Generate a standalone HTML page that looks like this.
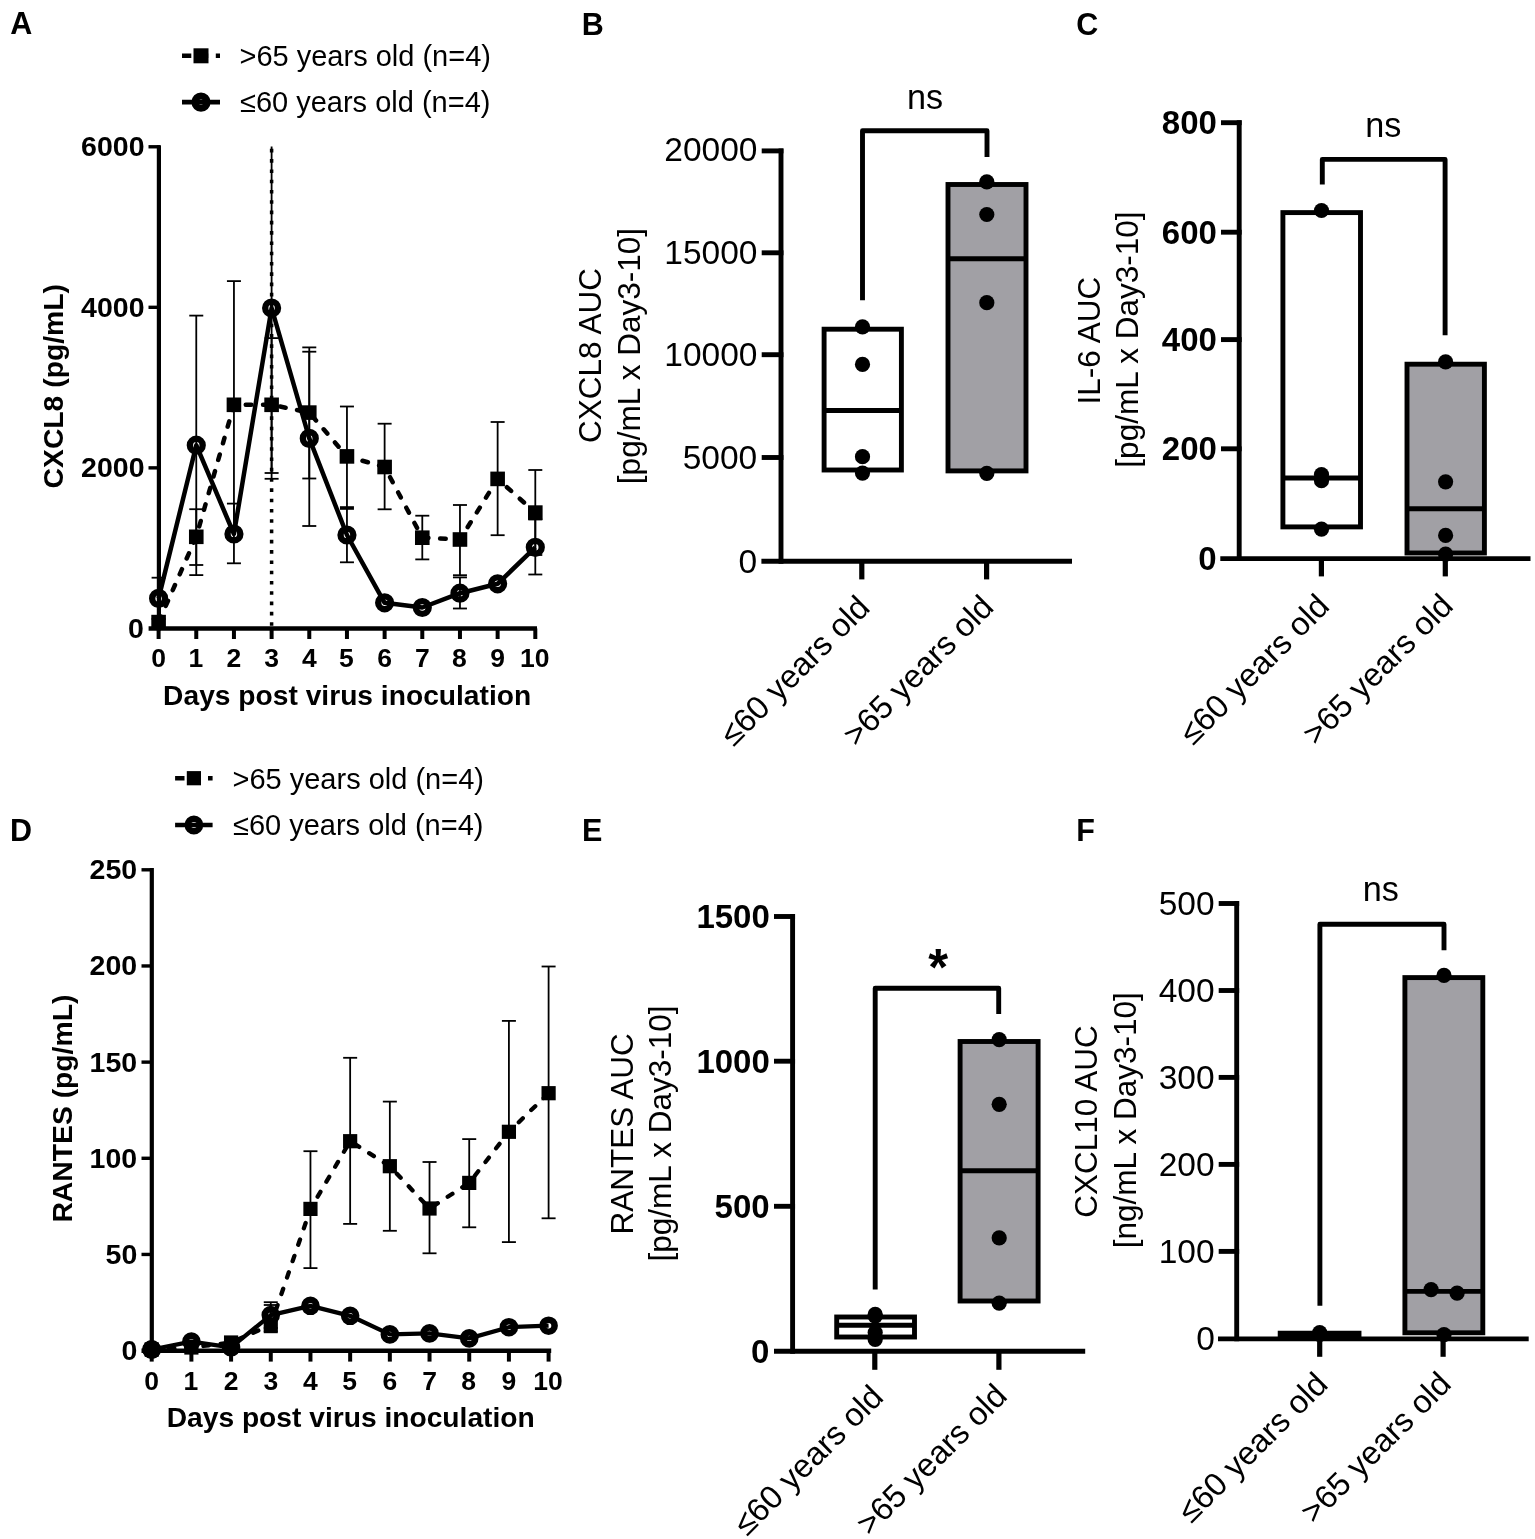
<!DOCTYPE html>
<html><head><meta charset="utf-8"><title>Figure</title>
<style>
html,body{margin:0;padding:0;background:#fff;}
body{width:1535px;height:1539px;overflow:hidden;}
svg{display:block;}
text{font-family:'Liberation Sans', sans-serif;fill:#000;}
line,polyline{stroke:#000;}
</style></head><body>
<svg width="1535" height="1539" viewBox="0 0 1535 1539">
<rect x="0" y="0" width="1535" height="1539" fill="#fff"/>
<text transform="translate(21.15,34.35)" font-size="30.5" font-weight="bold" text-anchor="middle">A</text>
<text transform="translate(592.75,34.70)" font-size="30.5" font-weight="bold" text-anchor="middle">B</text>
<text transform="translate(1087.35,34.60)" font-size="30.5" font-weight="bold" text-anchor="middle">C</text>
<text transform="translate(21.10,841.15)" font-size="30.5" font-weight="bold" text-anchor="middle">D</text>
<text transform="translate(592.05,841.05)" font-size="30.5" font-weight="bold" text-anchor="middle">E</text>
<text transform="translate(1085.50,841.25)" font-size="30.5" font-weight="bold" text-anchor="middle">F</text>
<line x1="182.00" y1="55.80" x2="220.00" y2="55.80" stroke-width="4.6" stroke-dasharray="9.3 7.6"/>
<rect x="193.50" y="48.30" width="15.00" height="15.00" fill="#000" />
<line x1="182.00" y1="102.10" x2="220.00" y2="102.10" stroke-width="4.6" />
<circle cx="201.00" cy="102.10" r="6.10" fill="none" stroke="#000" stroke-width="7.0"/>
<text transform="translate(365.20,66.05)" font-size="29" font-weight="normal" text-anchor="middle">&gt;65 years old (n=4)</text>
<text transform="translate(365.20,112.20)" font-size="29" font-weight="normal" text-anchor="middle">≤60 years old (n=4)</text>
<line x1="158.90" y1="145.20" x2="158.90" y2="630.60" stroke-width="4.2" />
<line x1="148.50" y1="146.78" x2="160.00" y2="146.78" stroke-width="3.4" />
<line x1="148.50" y1="307.32" x2="160.00" y2="307.32" stroke-width="3.4" />
<line x1="148.50" y1="467.86" x2="160.00" y2="467.86" stroke-width="3.4" />
<line x1="148.60" y1="628.40" x2="537.00" y2="628.40" stroke-width="4.5" />
<line x1="158.60" y1="628.40" x2="158.60" y2="639.00" stroke-width="4.0" />
<line x1="196.27" y1="628.40" x2="196.27" y2="639.00" stroke-width="4.0" />
<line x1="233.94" y1="628.40" x2="233.94" y2="639.00" stroke-width="4.0" />
<line x1="271.61" y1="628.40" x2="271.61" y2="639.00" stroke-width="4.0" />
<line x1="309.28" y1="628.40" x2="309.28" y2="639.00" stroke-width="4.0" />
<line x1="346.95" y1="628.40" x2="346.95" y2="639.00" stroke-width="4.0" />
<line x1="384.62" y1="628.40" x2="384.62" y2="639.00" stroke-width="4.0" />
<line x1="422.29" y1="628.40" x2="422.29" y2="639.00" stroke-width="4.0" />
<line x1="459.96" y1="628.40" x2="459.96" y2="639.00" stroke-width="4.0" />
<line x1="497.63" y1="628.40" x2="497.63" y2="639.00" stroke-width="4.0" />
<line x1="535.30" y1="628.40" x2="535.30" y2="639.00" stroke-width="4.0" />
<text transform="translate(112.80,156.28)" font-size="28.5" font-weight="bold" text-anchor="middle">6000</text>
<text transform="translate(112.80,316.82)" font-size="28.5" font-weight="bold" text-anchor="middle">4000</text>
<text transform="translate(112.80,477.36)" font-size="28.5" font-weight="bold" text-anchor="middle">2000</text>
<text transform="translate(135.80,637.90)" font-size="28.5" font-weight="bold" text-anchor="middle">0</text>
<text transform="translate(158.60,666.95)" font-size="26.5" font-weight="bold" text-anchor="middle">0</text>
<text transform="translate(195.77,666.95)" font-size="26.5" font-weight="bold" text-anchor="middle">1</text>
<text transform="translate(233.94,666.95)" font-size="26.5" font-weight="bold" text-anchor="middle">2</text>
<text transform="translate(271.61,666.95)" font-size="26.5" font-weight="bold" text-anchor="middle">3</text>
<text transform="translate(309.28,666.95)" font-size="26.5" font-weight="bold" text-anchor="middle">4</text>
<text transform="translate(346.45,666.95)" font-size="26.5" font-weight="bold" text-anchor="middle">5</text>
<text transform="translate(384.62,666.95)" font-size="26.5" font-weight="bold" text-anchor="middle">6</text>
<text transform="translate(422.29,666.95)" font-size="26.5" font-weight="bold" text-anchor="middle">7</text>
<text transform="translate(459.46,666.95)" font-size="26.5" font-weight="bold" text-anchor="middle">8</text>
<text transform="translate(497.63,666.95)" font-size="26.5" font-weight="bold" text-anchor="middle">9</text>
<text transform="translate(534.80,666.95)" font-size="26.5" font-weight="bold" text-anchor="middle">10</text>
<text transform="translate(347.15,704.70)" font-size="28.2" font-weight="bold" text-anchor="middle">Days post virus inoculation</text>
<text transform="translate(63.20,386.25) rotate(-90)" font-size="28.3" font-weight="bold" text-anchor="middle">CXCL8 (pg/mL)</text>
<line x1="271.61" y1="146.00" x2="271.61" y2="628.00" stroke-width="3.5" stroke-dasharray="3.6 6.69" stroke-dashoffset="-2.8"/>
<line x1="196.27" y1="509.20" x2="196.27" y2="565.00" stroke-width="1.8" />
<line x1="189.27" y1="509.20" x2="203.27" y2="509.20" stroke-width="1.8" />
<line x1="189.27" y1="565.00" x2="203.27" y2="565.00" stroke-width="1.8" />
<line x1="233.94" y1="281.10" x2="233.94" y2="528.80" stroke-width="1.8" />
<line x1="226.94" y1="281.10" x2="240.94" y2="281.10" stroke-width="1.8" />
<line x1="226.94" y1="528.80" x2="240.94" y2="528.80" stroke-width="1.8" />
<line x1="271.61" y1="338.10" x2="271.61" y2="473.00" stroke-width="1.8" />
<line x1="264.61" y1="338.10" x2="278.61" y2="338.10" stroke-width="1.8" />
<line x1="264.61" y1="473.00" x2="278.61" y2="473.00" stroke-width="1.8" />
<line x1="309.28" y1="347.40" x2="309.28" y2="478.50" stroke-width="1.8" />
<line x1="302.28" y1="347.40" x2="316.28" y2="347.40" stroke-width="1.8" />
<line x1="302.28" y1="478.50" x2="316.28" y2="478.50" stroke-width="1.8" />
<line x1="346.95" y1="406.50" x2="346.95" y2="507.10" stroke-width="1.8" />
<line x1="339.95" y1="406.50" x2="353.95" y2="406.50" stroke-width="1.8" />
<line x1="339.95" y1="507.10" x2="353.95" y2="507.10" stroke-width="1.8" />
<line x1="384.62" y1="423.70" x2="384.62" y2="509.30" stroke-width="1.8" />
<line x1="377.62" y1="423.70" x2="391.62" y2="423.70" stroke-width="1.8" />
<line x1="377.62" y1="509.30" x2="391.62" y2="509.30" stroke-width="1.8" />
<line x1="422.29" y1="515.70" x2="422.29" y2="559.40" stroke-width="1.8" />
<line x1="415.29" y1="515.70" x2="429.29" y2="515.70" stroke-width="1.8" />
<line x1="415.29" y1="559.40" x2="429.29" y2="559.40" stroke-width="1.8" />
<line x1="459.96" y1="505.00" x2="459.96" y2="575.20" stroke-width="1.8" />
<line x1="452.96" y1="505.00" x2="466.96" y2="505.00" stroke-width="1.8" />
<line x1="452.96" y1="575.20" x2="466.96" y2="575.20" stroke-width="1.8" />
<line x1="497.63" y1="422.00" x2="497.63" y2="535.20" stroke-width="1.8" />
<line x1="490.63" y1="422.00" x2="504.63" y2="422.00" stroke-width="1.8" />
<line x1="490.63" y1="535.20" x2="504.63" y2="535.20" stroke-width="1.8" />
<line x1="535.30" y1="470.00" x2="535.30" y2="555.00" stroke-width="1.8" />
<line x1="528.30" y1="470.00" x2="542.30" y2="470.00" stroke-width="1.8" />
<line x1="528.30" y1="555.00" x2="542.30" y2="555.00" stroke-width="1.8" />
<line x1="158.60" y1="577.70" x2="158.60" y2="619.00" stroke-width="1.8" />
<line x1="151.60" y1="577.70" x2="165.60" y2="577.70" stroke-width="1.8" />
<line x1="151.60" y1="619.00" x2="165.60" y2="619.00" stroke-width="1.8" />
<line x1="196.27" y1="315.60" x2="196.27" y2="575.10" stroke-width="1.8" />
<line x1="189.27" y1="315.60" x2="203.27" y2="315.60" stroke-width="1.8" />
<line x1="189.27" y1="575.10" x2="203.27" y2="575.10" stroke-width="1.8" />
<line x1="233.94" y1="503.60" x2="233.94" y2="563.30" stroke-width="1.8" />
<line x1="226.94" y1="503.60" x2="240.94" y2="503.60" stroke-width="1.8" />
<line x1="226.94" y1="563.30" x2="240.94" y2="563.30" stroke-width="1.8" />
<line x1="271.61" y1="146.50" x2="271.61" y2="478.80" stroke-width="1.8" />
<line x1="264.61" y1="478.80" x2="278.61" y2="478.80" stroke-width="1.8" />
<line x1="309.28" y1="351.70" x2="309.28" y2="526.00" stroke-width="1.8" />
<line x1="302.28" y1="351.70" x2="316.28" y2="351.70" stroke-width="1.8" />
<line x1="302.28" y1="526.00" x2="316.28" y2="526.00" stroke-width="1.8" />
<line x1="346.95" y1="508.90" x2="346.95" y2="562.30" stroke-width="1.8" />
<line x1="339.95" y1="508.90" x2="353.95" y2="508.90" stroke-width="1.8" />
<line x1="339.95" y1="562.30" x2="353.95" y2="562.30" stroke-width="1.8" />
<line x1="459.96" y1="577.40" x2="459.96" y2="608.50" stroke-width="1.8" />
<line x1="452.96" y1="577.40" x2="466.96" y2="577.40" stroke-width="1.8" />
<line x1="452.96" y1="608.50" x2="466.96" y2="608.50" stroke-width="1.8" />
<line x1="535.30" y1="519.50" x2="535.30" y2="574.50" stroke-width="1.8" />
<line x1="528.30" y1="519.50" x2="542.30" y2="519.50" stroke-width="1.8" />
<line x1="528.30" y1="574.50" x2="542.30" y2="574.50" stroke-width="1.8" />
<polyline points="158.60,622.10 196.27,536.80 233.94,404.80 271.61,404.80 309.28,412.60 346.95,456.40 384.62,467.00 422.29,537.70 459.96,539.50 497.63,478.90 535.30,512.60" fill="none" stroke-width="4.5" stroke-linejoin="round" stroke-dasharray="5.6 11.68" stroke-dashoffset="-0.4" stroke-linecap="round"/>
<polyline points="158.60,598.40 196.27,445.20 233.94,534.00 271.61,308.00 309.28,438.40 346.95,535.00 384.62,602.80 422.29,607.50 459.96,593.20 497.63,583.80 535.30,547.30" fill="none" stroke-width="4.5" stroke-linejoin="round" />
<rect x="151.30" y="614.80" width="14.60" height="14.60" fill="#000" />
<rect x="188.97" y="529.50" width="14.60" height="14.60" fill="#000" />
<rect x="226.64" y="397.50" width="14.60" height="14.60" fill="#000" />
<rect x="264.31" y="397.50" width="14.60" height="14.60" fill="#000" />
<rect x="301.98" y="405.30" width="14.60" height="14.60" fill="#000" />
<rect x="339.65" y="449.10" width="14.60" height="14.60" fill="#000" />
<rect x="377.32" y="459.70" width="14.60" height="14.60" fill="#000" />
<rect x="414.99" y="530.40" width="14.60" height="14.60" fill="#000" />
<rect x="452.66" y="532.20" width="14.60" height="14.60" fill="#000" />
<rect x="490.33" y="471.60" width="14.60" height="14.60" fill="#000" />
<rect x="528.00" y="505.30" width="14.60" height="14.60" fill="#000" />
<circle cx="158.60" cy="598.40" r="6.40" fill="none" stroke="#000" stroke-width="6.3999999999999995"/>
<circle cx="196.27" cy="445.20" r="6.40" fill="none" stroke="#000" stroke-width="6.3999999999999995"/>
<circle cx="233.94" cy="534.00" r="6.40" fill="none" stroke="#000" stroke-width="6.3999999999999995"/>
<circle cx="271.61" cy="308.00" r="6.40" fill="none" stroke="#000" stroke-width="6.3999999999999995"/>
<circle cx="309.28" cy="438.40" r="6.40" fill="none" stroke="#000" stroke-width="6.3999999999999995"/>
<circle cx="346.95" cy="535.00" r="6.40" fill="none" stroke="#000" stroke-width="6.3999999999999995"/>
<circle cx="384.62" cy="602.80" r="6.40" fill="none" stroke="#000" stroke-width="6.3999999999999995"/>
<circle cx="422.29" cy="607.50" r="6.40" fill="none" stroke="#000" stroke-width="6.3999999999999995"/>
<circle cx="459.96" cy="593.20" r="6.40" fill="none" stroke="#000" stroke-width="6.3999999999999995"/>
<circle cx="497.63" cy="583.80" r="6.40" fill="none" stroke="#000" stroke-width="6.3999999999999995"/>
<circle cx="535.30" cy="547.30" r="6.40" fill="none" stroke="#000" stroke-width="6.3999999999999995"/>
<line x1="781.00" y1="148.45" x2="781.00" y2="563.75" stroke-width="4.9" />
<line x1="761.70" y1="150.90" x2="783.45" y2="150.90" stroke-width="4.9" />
<text transform="translate(710.90,160.80)" font-size="33.5" font-weight="normal" text-anchor="middle">20000</text>
<line x1="761.70" y1="252.80" x2="783.45" y2="252.80" stroke-width="4.9" />
<text transform="translate(710.90,264.30)" font-size="33.5" font-weight="normal" text-anchor="middle">15000</text>
<line x1="761.70" y1="354.70" x2="783.45" y2="354.70" stroke-width="4.9" />
<text transform="translate(710.90,366.20)" font-size="33.5" font-weight="normal" text-anchor="middle">10000</text>
<line x1="761.70" y1="457.50" x2="783.45" y2="457.50" stroke-width="4.9" />
<text transform="translate(719.90,469.00)" font-size="33.5" font-weight="normal" text-anchor="middle">5000</text>
<text transform="translate(747.90,572.80)" font-size="33.5" font-weight="normal" text-anchor="middle">0</text>
<line x1="761.40" y1="561.30" x2="1072.00" y2="561.30" stroke-width="4.9" />
<line x1="861.80" y1="561.30" x2="861.80" y2="579.40" stroke-width="5.2" />
<line x1="986.60" y1="561.30" x2="986.60" y2="579.40" stroke-width="5.2" />
<rect x="824.10" y="329.20" width="77.30" height="140.80" fill="#fff" stroke="#000" stroke-width="4.9"/>
<line x1="824.10" y1="410.50" x2="901.40" y2="410.50" stroke-width="4.9" />
<rect x="948.00" y="184.50" width="78.00" height="286.40" fill="#a1a0a5" stroke="#000" stroke-width="4.9"/>
<line x1="948.00" y1="258.80" x2="1026.00" y2="258.80" stroke-width="4.9" />
<circle cx="862.50" cy="326.90" r="7.60" fill="#000" stroke="none"/>
<circle cx="862.50" cy="364.40" r="7.60" fill="#000" stroke="none"/>
<circle cx="862.50" cy="456.70" r="7.60" fill="#000" stroke="none"/>
<circle cx="862.50" cy="473.10" r="7.60" fill="#000" stroke="none"/>
<circle cx="986.80" cy="181.80" r="7.60" fill="#000" stroke="none"/>
<circle cx="986.80" cy="214.50" r="7.60" fill="#000" stroke="none"/>
<circle cx="986.80" cy="302.70" r="7.60" fill="#000" stroke="none"/>
<circle cx="986.80" cy="473.40" r="7.60" fill="#000" stroke="none"/>
<polyline points="862.50,300.30 862.50,130.80 987.00,130.80 987.00,156.90" fill="none" stroke-width="4.9" stroke-linejoin="round" stroke-linejoin="miter" stroke-linecap="butt"/>
<text transform="translate(925.15,108.75)" font-size="34.2" font-weight="normal" text-anchor="middle">ns</text>
<text transform="translate(600.90,355.50) rotate(-90)" font-size="31.5" font-weight="normal" text-anchor="middle">CXCL8 AUC</text>
<text transform="translate(639.80,356.05) rotate(-90)" font-size="31.5" font-weight="normal" text-anchor="middle">[pg/mL x Day3-10]</text>
<text transform="translate(802.60,678.40) rotate(-45)" font-size="32.6" font-weight="normal" text-anchor="middle">≤60 years old</text>
<text transform="translate(925.90,678.40) rotate(-45)" font-size="32.6" font-weight="normal" text-anchor="middle">&gt;65 years old</text>
<line x1="1239.20" y1="120.25" x2="1239.20" y2="561.05" stroke-width="4.9" />
<line x1="1221.00" y1="122.70" x2="1241.65" y2="122.70" stroke-width="4.9" />
<text transform="translate(1189.40,134.20)" font-size="33" font-weight="bold" text-anchor="middle">800</text>
<line x1="1221.00" y1="232.20" x2="1241.65" y2="232.20" stroke-width="4.9" />
<text transform="translate(1189.40,243.70)" font-size="33" font-weight="bold" text-anchor="middle">600</text>
<line x1="1221.00" y1="339.60" x2="1241.65" y2="339.60" stroke-width="4.9" />
<text transform="translate(1189.40,351.10)" font-size="33" font-weight="bold" text-anchor="middle">400</text>
<line x1="1221.00" y1="448.80" x2="1241.65" y2="448.80" stroke-width="4.9" />
<text transform="translate(1189.40,460.30)" font-size="33" font-weight="bold" text-anchor="middle">200</text>
<text transform="translate(1207.40,570.30)" font-size="33" font-weight="bold" text-anchor="middle">0</text>
<line x1="1220.30" y1="558.60" x2="1530.50" y2="558.60" stroke-width="4.9" />
<line x1="1321.40" y1="558.60" x2="1321.40" y2="576.40" stroke-width="5.2" />
<line x1="1445.30" y1="558.60" x2="1445.30" y2="576.40" stroke-width="5.2" />
<rect x="1282.90" y="212.60" width="77.60" height="314.30" fill="#fff" stroke="#000" stroke-width="4.9"/>
<line x1="1282.90" y1="478.00" x2="1360.50" y2="478.00" stroke-width="4.9" />
<rect x="1407.00" y="364.20" width="77.40" height="188.80" fill="#a1a0a5" stroke="#000" stroke-width="4.9"/>
<line x1="1407.00" y1="508.70" x2="1484.40" y2="508.70" stroke-width="4.9" />
<circle cx="1321.50" cy="210.50" r="7.60" fill="#000" stroke="none"/>
<circle cx="1321.50" cy="474.50" r="7.60" fill="#000" stroke="none"/>
<circle cx="1321.50" cy="480.70" r="7.60" fill="#000" stroke="none"/>
<circle cx="1321.50" cy="529.20" r="7.60" fill="#000" stroke="none"/>
<circle cx="1445.60" cy="361.90" r="7.60" fill="#000" stroke="none"/>
<circle cx="1445.60" cy="481.80" r="7.60" fill="#000" stroke="none"/>
<circle cx="1445.60" cy="535.40" r="7.60" fill="#000" stroke="none"/>
<circle cx="1445.60" cy="554.20" r="7.60" fill="#000" stroke="none"/>
<polyline points="1322.30,184.40 1322.30,159.40 1445.10,159.40 1445.10,335.30" fill="none" stroke-width="4.9" stroke-linejoin="round" stroke-linejoin="miter" stroke-linecap="butt"/>
<text transform="translate(1383.25,137.00)" font-size="34.2" font-weight="normal" text-anchor="middle">ns</text>
<text transform="translate(1099.60,340.55) rotate(-90)" font-size="31.5" font-weight="normal" text-anchor="middle">IL-6 AUC</text>
<text transform="translate(1138.45,339.55) rotate(-90)" font-size="31.5" font-weight="normal" text-anchor="middle">[pg/mL x Day3-10]</text>
<text transform="translate(1262.00,677.10) rotate(-45)" font-size="32.6" font-weight="normal" text-anchor="middle">≤60 years old</text>
<text transform="translate(1385.40,677.10) rotate(-45)" font-size="32.6" font-weight="normal" text-anchor="middle">&gt;65 years old</text>
<line x1="792.60" y1="914.05" x2="792.60" y2="1353.65" stroke-width="4.9" />
<line x1="774.00" y1="916.50" x2="795.05" y2="916.50" stroke-width="4.9" />
<text transform="translate(733.10,928.00)" font-size="33" font-weight="bold" text-anchor="middle">1500</text>
<line x1="774.00" y1="1061.20" x2="795.05" y2="1061.20" stroke-width="4.9" />
<text transform="translate(733.10,1072.70)" font-size="33" font-weight="bold" text-anchor="middle">1000</text>
<line x1="774.00" y1="1206.30" x2="795.05" y2="1206.30" stroke-width="4.9" />
<text transform="translate(742.10,1217.80)" font-size="33" font-weight="bold" text-anchor="middle">500</text>
<text transform="translate(760.10,1362.70)" font-size="33" font-weight="bold" text-anchor="middle">0</text>
<line x1="774.00" y1="1351.20" x2="1085.20" y2="1351.20" stroke-width="4.9" />
<line x1="874.80" y1="1351.20" x2="874.80" y2="1369.80" stroke-width="5.2" />
<line x1="998.90" y1="1351.20" x2="998.90" y2="1369.80" stroke-width="5.2" />
<rect x="836.70" y="1317.00" width="77.80" height="20.00" fill="#fff" stroke="#000" stroke-width="4.9"/>
<line x1="836.70" y1="1325.20" x2="914.50" y2="1325.20" stroke-width="4.9" />
<rect x="960.10" y="1041.50" width="78.00" height="259.50" fill="#a1a0a5" stroke="#000" stroke-width="4.9"/>
<line x1="960.10" y1="1170.80" x2="1038.10" y2="1170.80" stroke-width="4.9" />
<circle cx="875.20" cy="1314.40" r="7.60" fill="#000" stroke="none"/>
<circle cx="875.20" cy="1316.20" r="7.60" fill="#000" stroke="none"/>
<circle cx="875.20" cy="1332.50" r="7.60" fill="#000" stroke="none"/>
<circle cx="875.20" cy="1339.50" r="7.60" fill="#000" stroke="none"/>
<circle cx="999.20" cy="1039.60" r="7.60" fill="#000" stroke="none"/>
<circle cx="999.20" cy="1104.30" r="7.60" fill="#000" stroke="none"/>
<circle cx="999.20" cy="1237.90" r="7.60" fill="#000" stroke="none"/>
<circle cx="999.20" cy="1303.20" r="7.60" fill="#000" stroke="none"/>
<polyline points="875.20,1289.50 875.20,988.30 998.70,988.30 998.70,1014.10" fill="none" stroke-width="4.9" stroke-linejoin="round" stroke-linejoin="miter" stroke-linecap="butt"/>
<text transform="translate(938.10,985.40)" font-size="51" font-weight="bold" font-family="DejaVu Sans, sans-serif" text-anchor="middle">*</text>
<text transform="translate(633.15,1133.95) rotate(-90)" font-size="31.5" font-weight="normal" text-anchor="middle">RANTES AUC</text>
<text transform="translate(671.15,1133.50) rotate(-90)" font-size="31.5" font-weight="normal" text-anchor="middle">[pg/mL x Day3-10]</text>
<text transform="translate(816.00,1467.90) rotate(-45)" font-size="32.6" font-weight="normal" text-anchor="middle">≤60 years old</text>
<text transform="translate(939.30,1467.20) rotate(-45)" font-size="32.6" font-weight="normal" text-anchor="middle">&gt;65 years old</text>
<line x1="1236.70" y1="901.05" x2="1236.70" y2="1341.35" stroke-width="4.9" />
<line x1="1218.70" y1="903.50" x2="1239.15" y2="903.50" stroke-width="4.9" />
<text transform="translate(1186.60,915.00)" font-size="33.5" font-weight="normal" text-anchor="middle">500</text>
<line x1="1218.70" y1="990.50" x2="1239.15" y2="990.50" stroke-width="4.9" />
<text transform="translate(1186.60,1002.00)" font-size="33.5" font-weight="normal" text-anchor="middle">400</text>
<line x1="1218.70" y1="1077.40" x2="1239.15" y2="1077.40" stroke-width="4.9" />
<text transform="translate(1186.60,1088.90)" font-size="33.5" font-weight="normal" text-anchor="middle">300</text>
<line x1="1218.70" y1="1164.40" x2="1239.15" y2="1164.40" stroke-width="4.9" />
<text transform="translate(1186.60,1175.90)" font-size="33.5" font-weight="normal" text-anchor="middle">200</text>
<line x1="1218.70" y1="1251.40" x2="1239.15" y2="1251.40" stroke-width="4.9" />
<text transform="translate(1186.60,1262.90)" font-size="33.5" font-weight="normal" text-anchor="middle">100</text>
<text transform="translate(1205.60,1350.10)" font-size="33.5" font-weight="normal" text-anchor="middle">0</text>
<line x1="1218.00" y1="1338.90" x2="1528.70" y2="1338.90" stroke-width="4.9" />
<line x1="1319.70" y1="1338.90" x2="1319.70" y2="1356.80" stroke-width="5.2" />
<line x1="1443.10" y1="1338.90" x2="1443.10" y2="1356.80" stroke-width="5.2" />
<rect x="1280.20" y="1333.20" width="78.80" height="3.30" fill="#fff" stroke="#000" stroke-width="4.9"/>
<line x1="1280.20" y1="1335.00" x2="1359.00" y2="1335.00" stroke-width="4.9" />
<rect x="1404.90" y="977.60" width="77.90" height="355.20" fill="#a1a0a5" stroke="#000" stroke-width="4.9"/>
<line x1="1404.90" y1="1291.40" x2="1482.80" y2="1291.40" stroke-width="4.9" />
<circle cx="1319.70" cy="1332.60" r="7.60" fill="#000" stroke="none"/>
<circle cx="1319.70" cy="1334.50" r="7.60" fill="#000" stroke="none"/>
<circle cx="1444.00" cy="975.40" r="7.60" fill="#000" stroke="none"/>
<circle cx="1431.10" cy="1289.60" r="7.60" fill="#000" stroke="none"/>
<circle cx="1457.10" cy="1293.20" r="7.60" fill="#000" stroke="none"/>
<circle cx="1444.00" cy="1334.70" r="7.60" fill="#000" stroke="none"/>
<polyline points="1319.90,1305.70 1319.90,924.30 1444.00,924.30 1444.00,950.20" fill="none" stroke-width="4.9" stroke-linejoin="round" stroke-linejoin="miter" stroke-linecap="butt"/>
<text transform="translate(1380.90,901.10)" font-size="34.2" font-weight="normal" text-anchor="middle">ns</text>
<text transform="translate(1097.00,1121.55) rotate(-90)" font-size="31.5" font-weight="normal" text-anchor="middle">CXCL10 AUC</text>
<text transform="translate(1136.15,1120.25) rotate(-90)" font-size="31.5" font-weight="normal" text-anchor="middle">[ng/mL x Day3-10]</text>
<text transform="translate(1260.40,1455.20) rotate(-45)" font-size="32.6" font-weight="normal" text-anchor="middle">≤60 years old</text>
<text transform="translate(1383.40,1455.20) rotate(-45)" font-size="32.6" font-weight="normal" text-anchor="middle">&gt;65 years old</text>
<line x1="175.10" y1="778.20" x2="212.60" y2="778.20" stroke-width="4.6" stroke-dasharray="9.4 7.05"/>
<rect x="186.80" y="771.10" width="14.20" height="14.20" fill="#000" />
<line x1="175.10" y1="825.00" x2="212.60" y2="825.00" stroke-width="4.6" />
<circle cx="193.90" cy="825.00" r="6.20" fill="none" stroke="#000" stroke-width="6.4"/>
<text transform="translate(358.20,788.80)" font-size="29" font-weight="normal" text-anchor="middle">&gt;65 years old (n=4)</text>
<text transform="translate(358.20,835.05)" font-size="29" font-weight="normal" text-anchor="middle">≤60 years old (n=4)</text>
<line x1="151.80" y1="868.10" x2="151.80" y2="1353.00" stroke-width="4.2" />
<line x1="141.50" y1="869.80" x2="152.90" y2="869.80" stroke-width="3.4" />
<line x1="141.50" y1="965.96" x2="152.90" y2="965.96" stroke-width="3.4" />
<line x1="141.50" y1="1062.12" x2="152.90" y2="1062.12" stroke-width="3.4" />
<line x1="141.50" y1="1158.28" x2="152.90" y2="1158.28" stroke-width="3.4" />
<line x1="141.50" y1="1254.44" x2="152.90" y2="1254.44" stroke-width="3.4" />
<line x1="141.50" y1="1350.80" x2="551.20" y2="1350.80" stroke-width="4.5" />
<line x1="151.70" y1="1350.80" x2="151.70" y2="1361.60" stroke-width="4.0" />
<line x1="191.39" y1="1350.80" x2="191.39" y2="1361.60" stroke-width="4.0" />
<line x1="231.08" y1="1350.80" x2="231.08" y2="1361.60" stroke-width="4.0" />
<line x1="270.77" y1="1350.80" x2="270.77" y2="1361.60" stroke-width="4.0" />
<line x1="310.46" y1="1350.80" x2="310.46" y2="1361.60" stroke-width="4.0" />
<line x1="350.15" y1="1350.80" x2="350.15" y2="1361.60" stroke-width="4.0" />
<line x1="389.84" y1="1350.80" x2="389.84" y2="1361.60" stroke-width="4.0" />
<line x1="429.53" y1="1350.80" x2="429.53" y2="1361.60" stroke-width="4.0" />
<line x1="469.22" y1="1350.80" x2="469.22" y2="1361.60" stroke-width="4.0" />
<line x1="508.91" y1="1350.80" x2="508.91" y2="1361.60" stroke-width="4.0" />
<line x1="548.60" y1="1350.80" x2="548.60" y2="1361.60" stroke-width="4.0" />
<text transform="translate(113.40,879.30)" font-size="28.5" font-weight="bold" text-anchor="middle">250</text>
<text transform="translate(113.40,975.46)" font-size="28.5" font-weight="bold" text-anchor="middle">200</text>
<text transform="translate(113.40,1071.62)" font-size="28.5" font-weight="bold" text-anchor="middle">150</text>
<text transform="translate(113.40,1167.78)" font-size="28.5" font-weight="bold" text-anchor="middle">100</text>
<text transform="translate(121.40,1263.94)" font-size="28.5" font-weight="bold" text-anchor="middle">50</text>
<text transform="translate(129.40,1360.10)" font-size="28.5" font-weight="bold" text-anchor="middle">0</text>
<text transform="translate(151.70,1390.05)" font-size="26.5" font-weight="bold" text-anchor="middle">0</text>
<text transform="translate(190.89,1390.05)" font-size="26.5" font-weight="bold" text-anchor="middle">1</text>
<text transform="translate(231.08,1390.05)" font-size="26.5" font-weight="bold" text-anchor="middle">2</text>
<text transform="translate(270.77,1390.05)" font-size="26.5" font-weight="bold" text-anchor="middle">3</text>
<text transform="translate(310.46,1390.05)" font-size="26.5" font-weight="bold" text-anchor="middle">4</text>
<text transform="translate(349.65,1390.05)" font-size="26.5" font-weight="bold" text-anchor="middle">5</text>
<text transform="translate(389.84,1390.05)" font-size="26.5" font-weight="bold" text-anchor="middle">6</text>
<text transform="translate(429.53,1390.05)" font-size="26.5" font-weight="bold" text-anchor="middle">7</text>
<text transform="translate(468.72,1390.05)" font-size="26.5" font-weight="bold" text-anchor="middle">8</text>
<text transform="translate(508.91,1390.05)" font-size="26.5" font-weight="bold" text-anchor="middle">9</text>
<text transform="translate(548.10,1390.05)" font-size="26.5" font-weight="bold" text-anchor="middle">10</text>
<text transform="translate(350.70,1426.80)" font-size="28.2" font-weight="bold" text-anchor="middle">Days post virus inoculation</text>
<text transform="translate(71.60,1108.60) rotate(-90)" font-size="28.3" font-weight="bold" text-anchor="middle">RANTES (pg/mL)</text>
<line x1="270.77" y1="1302.20" x2="270.77" y2="1332.30" stroke-width="1.8" />
<line x1="263.77" y1="1302.20" x2="277.77" y2="1302.20" stroke-width="1.8" />
<line x1="263.77" y1="1332.30" x2="277.77" y2="1332.30" stroke-width="1.8" />
<line x1="310.46" y1="1151.20" x2="310.46" y2="1268.10" stroke-width="1.8" />
<line x1="303.46" y1="1151.20" x2="317.46" y2="1151.20" stroke-width="1.8" />
<line x1="303.46" y1="1268.10" x2="317.46" y2="1268.10" stroke-width="1.8" />
<line x1="350.15" y1="1057.80" x2="350.15" y2="1223.90" stroke-width="1.8" />
<line x1="343.15" y1="1057.80" x2="357.15" y2="1057.80" stroke-width="1.8" />
<line x1="343.15" y1="1223.90" x2="357.15" y2="1223.90" stroke-width="1.8" />
<line x1="389.84" y1="1101.60" x2="389.84" y2="1230.80" stroke-width="1.8" />
<line x1="382.84" y1="1101.60" x2="396.84" y2="1101.60" stroke-width="1.8" />
<line x1="382.84" y1="1230.80" x2="396.84" y2="1230.80" stroke-width="1.8" />
<line x1="429.53" y1="1162.00" x2="429.53" y2="1253.30" stroke-width="1.8" />
<line x1="422.53" y1="1162.00" x2="436.53" y2="1162.00" stroke-width="1.8" />
<line x1="422.53" y1="1253.30" x2="436.53" y2="1253.30" stroke-width="1.8" />
<line x1="469.22" y1="1139.10" x2="469.22" y2="1227.30" stroke-width="1.8" />
<line x1="462.22" y1="1139.10" x2="476.22" y2="1139.10" stroke-width="1.8" />
<line x1="462.22" y1="1227.30" x2="476.22" y2="1227.30" stroke-width="1.8" />
<line x1="508.91" y1="1020.90" x2="508.91" y2="1242.10" stroke-width="1.8" />
<line x1="501.91" y1="1020.90" x2="515.91" y2="1020.90" stroke-width="1.8" />
<line x1="501.91" y1="1242.10" x2="515.91" y2="1242.10" stroke-width="1.8" />
<line x1="548.60" y1="966.50" x2="548.60" y2="1218.30" stroke-width="1.8" />
<line x1="541.60" y1="966.50" x2="555.60" y2="966.50" stroke-width="1.8" />
<line x1="541.60" y1="1218.30" x2="555.60" y2="1218.30" stroke-width="1.8" />
<line x1="270.77" y1="1305.00" x2="270.77" y2="1328.00" stroke-width="1.8" />
<line x1="263.77" y1="1305.00" x2="277.77" y2="1305.00" stroke-width="1.8" />
<line x1="263.77" y1="1328.00" x2="277.77" y2="1328.00" stroke-width="1.8" />
<polyline points="151.70,1349.50 191.39,1347.50 231.08,1342.50 270.77,1325.10 310.46,1208.90 350.15,1141.20 389.84,1166.20 429.53,1208.50 469.22,1182.90 508.91,1131.80 548.60,1093.20" fill="none" stroke-width="4.3" stroke-linejoin="round" stroke-dasharray="5.6 11.75" stroke-dashoffset="0.2" stroke-linecap="round"/>
<polyline points="151.70,1349.50 191.39,1341.60 231.08,1347.30 270.77,1315.10 310.46,1305.80 350.15,1315.80 389.84,1334.40 429.53,1333.40 469.22,1338.40 508.91,1327.20 548.60,1325.70" fill="none" stroke-width="4.3" stroke-linejoin="round" />
<rect x="144.60" y="1342.40" width="14.20" height="14.20" fill="#000" />
<rect x="184.29" y="1340.40" width="14.20" height="14.20" fill="#000" />
<rect x="223.98" y="1335.40" width="14.20" height="14.20" fill="#000" />
<rect x="263.67" y="1318.00" width="14.20" height="14.20" fill="#000" />
<rect x="303.36" y="1201.80" width="14.20" height="14.20" fill="#000" />
<rect x="343.05" y="1134.10" width="14.20" height="14.20" fill="#000" />
<rect x="382.74" y="1159.10" width="14.20" height="14.20" fill="#000" />
<rect x="422.43" y="1201.40" width="14.20" height="14.20" fill="#000" />
<rect x="462.12" y="1175.80" width="14.20" height="14.20" fill="#000" />
<rect x="501.81" y="1124.70" width="14.20" height="14.20" fill="#000" />
<rect x="541.50" y="1086.10" width="14.20" height="14.20" fill="#000" />
<circle cx="151.70" cy="1349.50" r="6.00" fill="none" stroke="#000" stroke-width="6.6000000000000005"/>
<circle cx="191.39" cy="1341.60" r="6.00" fill="none" stroke="#000" stroke-width="6.6000000000000005"/>
<circle cx="231.08" cy="1347.30" r="6.00" fill="none" stroke="#000" stroke-width="6.6000000000000005"/>
<circle cx="270.77" cy="1315.10" r="6.00" fill="none" stroke="#000" stroke-width="6.6000000000000005"/>
<circle cx="310.46" cy="1305.80" r="6.00" fill="none" stroke="#000" stroke-width="6.6000000000000005"/>
<circle cx="350.15" cy="1315.80" r="6.00" fill="none" stroke="#000" stroke-width="6.6000000000000005"/>
<circle cx="389.84" cy="1334.40" r="6.00" fill="none" stroke="#000" stroke-width="6.6000000000000005"/>
<circle cx="429.53" cy="1333.40" r="6.00" fill="none" stroke="#000" stroke-width="6.6000000000000005"/>
<circle cx="469.22" cy="1338.40" r="6.00" fill="none" stroke="#000" stroke-width="6.6000000000000005"/>
<circle cx="508.91" cy="1327.20" r="6.00" fill="none" stroke="#000" stroke-width="6.6000000000000005"/>
<circle cx="548.60" cy="1325.70" r="6.00" fill="none" stroke="#000" stroke-width="6.6000000000000005"/>
<circle cx="151.70" cy="1349.50" r="9.50" fill="#000" stroke="none"/>
</svg>
</body></html>
